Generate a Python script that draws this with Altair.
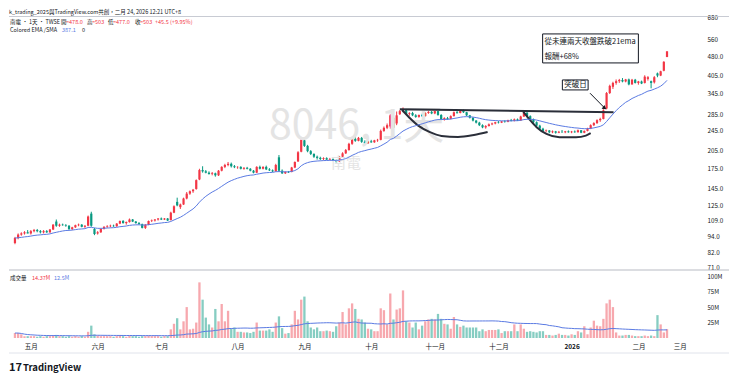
import altair as alt
import pandas as pd

UP = "#f23645"
DOWN = "#089981"
VUP = "#f7a8ae"
VDOWN = "#86cdc2"
EMA_C = "#5b7be3"
INK = "#131722"
FONT = "Noto Sans CJK TC"

# ---- daily candles (Apr 24 2025 -> Feb 24 2026) ----
opens = [89, 93, 96, 97, 98, 97, 99, 100, 99, 98, 99, 98, 100.5, 108, 104, 105, 104.5, 104, 101, 102.5,
         104.5, 105, 103, 104, 116, 101, 97, 98, 101, 103, 103.5, 104, 103.5, 106, 108.5, 106.5, 107.5, 110, 108, 106.5,
         105.5, 102, 105, 108.5, 109, 110, 111, 110, 111, 109.5, 117, 129, 123, 126, 133, 139, 142, 145, 158, 172,
         170, 168, 166, 167, 164, 171, 177, 180, 182, 178, 176.5, 177, 174, 175.5, 174, 171, 168, 177, 174, 177,
         173, 171.5, 170, 193, 171, 167, 169, 169, 176, 186, 203, 225, 214, 204, 199, 194, 192, 190, 191.5, 189,
         190, 188, 186, 194, 200, 206, 218, 228, 224, 230, 222, 219, 223, 221, 225, 226, 245, 252, 255, 276,
         262, 285, 293, 298, 286, 288, 282, 278, 283, 280, 288, 291, 287, 293, 283, 272, 275, 273, 280, 290,
         288, 294, 290, 282, 276, 269, 264, 258, 253, 256, 260, 262, 265, 264, 267, 266, 270, 268, 272, 269,
         279, 289, 280, 272, 265, 257, 250, 245, 246, 242, 244, 241, 243, 242, 244, 242, 243.5, 242, 246.5, 241,
         245, 250, 258, 263, 270, 273, 300, 345, 365, 378, 384, 388, 383, 390, 373, 389, 378, 383, 378, 392,
         384, 380, 412, 404, 422, 478]
highs = [94, 97, 98, 99, 100, 100, 101, 101, 100, 100, 100, 101, 105.5, 110, 106, 106, 105.5, 104.5, 103, 105,
         106, 105.5, 104.5, 114, 118, 102, 99, 101.5, 103.5, 104.5, 105, 105, 106.5, 109, 109.5, 108, 111, 110.5, 108.5, 107.5,
         106, 105.5, 109, 110, 110.5, 111.5, 112, 111.5, 111.5, 118, 125, 134, 127, 134, 141, 143, 145, 158, 174, 178,
         172, 170, 169, 168, 172, 178, 182, 185, 184, 180, 178, 178, 176.5, 177, 175, 172, 178, 179, 178, 179,
         175, 173, 182, 197, 173, 170, 170.5, 177, 186, 204, 232, 228, 216, 206, 200, 196, 194, 193, 193, 192,
         191, 189, 195, 202, 208, 220, 230, 235, 232, 232, 225, 224, 226, 226, 228, 248, 255, 262, 285, 280,
         292, 296, 303, 299, 290, 291, 285, 284, 286, 290, 293, 294, 295, 295, 285, 277, 278, 282, 292, 298,
         296, 297, 291, 283, 277, 270, 266, 260, 258, 262, 264, 266, 268, 268, 270, 271, 273, 274, 274, 281,
         292, 290, 282, 274, 267, 259, 252, 248, 247, 246, 245, 245, 247, 245, 246, 245, 246, 248, 247, 246,
         252, 260, 265, 272, 276, 298, 348, 372, 382, 390, 392, 395, 392, 393, 392, 392, 385, 386, 405, 402,
         386, 402, 415, 422, 460, 503]
lows = [88, 92, 95, 96, 97, 96, 98, 98, 97, 97, 97.5, 97.5, 100, 103, 103, 104, 103, 100, 100, 102,
        103.5, 102.5, 102, 103.5, 103, 95.5, 96, 97.5, 100.5, 102, 102.5, 103, 103, 105.5, 106, 105, 107, 107.5, 106, 105,
        101.5, 101, 104.5, 107.5, 108, 109, 109.5, 109.5, 108.5, 109, 116.5, 124, 121, 125.5, 132, 137.5, 140, 144, 157, 168,
        167, 165, 164, 162, 163, 170, 175, 178, 176, 175, 174, 173, 172.5, 173, 170, 167, 167.5, 173, 173, 172,
        170.5, 169, 169.5, 169, 166, 166, 167.5, 168.5, 175, 185, 202, 212, 202, 197, 192, 189, 188, 188, 188.5, 188,
        186.5, 184, 185, 193, 199, 205, 216, 222, 223, 220, 217, 218, 220, 220, 222, 225, 243, 249, 250, 248,
        258, 283, 290, 284, 281, 280, 276, 276, 278, 279, 286, 285, 285, 281, 270, 269, 271, 272, 279, 286,
        287, 288, 280, 274, 267, 262, 256, 251, 250, 255, 258, 260, 262, 263, 264, 265, 267, 267, 268, 268,
        278, 278, 270, 263, 255, 248, 243, 242, 240, 240, 239, 240, 241, 240, 241, 240, 241, 241.5, 240, 240,
        244, 249, 256, 261, 266, 272, 298, 342, 358, 372, 378, 380, 380, 370, 372, 376, 372, 374, 376, 386,
        360, 376, 398, 402, 420, 477]
closes = [93, 96, 97, 98, 97, 99, 100, 99, 98, 99, 98, 100.5, 105, 104, 105, 104.5, 104, 101, 102.5, 104.5,
          105, 103, 104, 113, 104, 96.5, 98, 101, 103, 103.5, 104, 103.5, 106, 108.5, 106.5, 107.5, 110, 108, 106.5, 105.5,
          102, 105, 108.5, 109, 110, 111, 110, 111, 109, 117, 124, 125, 126, 133, 139, 142, 144, 157, 172, 170,
          168, 166, 167, 164, 171, 177, 180, 182, 178, 176.5, 177, 174, 175.5, 174, 171, 168, 177, 174, 177, 173,
          171.5, 170, 180, 171, 167, 169, 168.5, 176, 185, 202, 226, 214, 204, 199, 194, 192, 190, 191.5, 189, 190,
          188, 186, 194, 200, 206, 218, 228, 224, 230, 222, 219, 223, 221, 225, 226, 245, 252, 258, 282, 252,
          282, 293, 299, 286, 288, 282, 278, 283, 280, 288, 291, 287, 293, 283, 272, 275, 273, 280, 290, 288,
          294, 290, 282, 276, 269, 264, 258, 253, 256, 260, 262, 265, 264, 267, 266, 270, 268, 272, 269, 279,
          289, 280, 272, 265, 257, 250, 245, 246, 242, 244, 241, 243, 242, 244, 242, 243.5, 242, 246.5, 241, 245,
          250, 258, 263, 270, 273, 295, 345, 368, 378, 384, 388, 383, 390, 373, 389, 378, 383, 376, 400, 398,
          378, 398, 404, 420, 457.5, 503]
volumes = [8, 8, 6, 3, 3, 3, 3, 2, 3, 2, 3, 3, 4, 5, 3, 3, 2, 3, 2, 3,
           2, 3, 2, 10, 20, 6, 4, 3, 3, 3, 3, 2, 3, 4, 3, 2, 4, 3, 3, 2,
           3, 3, 4, 3, 3, 3, 2, 3, 3, 14, 23, 32, 14, 27, 50, 14, 15, 25, 90, 62,
           33, 22, 17, 47, 27, 55, 27, 44, 15, 17, 10, 10, 9, 9, 8, 10, 25, 12, 12, 12,
           14, 10, 25, 35, 16, 7, 8, 22, 44, 30, 62, 67, 27, 17, 14, 17, 11, 11, 12, 11,
           10, 19, 25, 42, 22, 48, 56, 47, 31, 30, 25, 15, 14, 11, 11, 48, 45, 22, 72, 30,
           46, 48, 77, 27, 25, 17, 25, 14, 20, 27, 30, 31, 30, 39, 31, 23, 22, 15, 34, 22,
           18, 20, 17, 17, 17, 17, 11, 14, 11, 13, 13, 13, 14, 8, 11, 11, 11, 22, 11, 22,
           15, 10, 11, 10, 9, 11, 11, 5, 5, 4, 5, 7, 5, 5, 4, 6, 5, 11, 9, 19,
           6, 17, 28, 20, 19, 31, 56, 62, 50, 9, 4, 4, 5, 5, 4, 3, 3, 3, 4, 3,
           4, 3, 37, 22, 9, 14.37]

month_idx = [5, 26, 46, 70, 91, 112, 132, 152, 175, 196, 209]
month_lbl = ["五月", "六月", "七月", "八月", "九月", "十月", "十一月", "十二月", "2026", "二月", "三月"]
price_ticks = [71, 82, 94, 109, 125, 145, 175, 205, 245, 285, 345, 405, 480, 560, 680]
vol_ticks = [25, 50, 75, 100]

# annotation shapes (bar index, price)
res_i = [121.0, 188.2]
res_p = [298, 290]
arc1_i = [121.7, 124.1, 126.9, 130.3, 134.1, 139.3, 144.3, 148.6]
arc1_p = [296, 275.5, 256.3, 242.8, 234.2, 232.1, 236.3, 242.8]
arc2_i = [159.8, 161.9, 164.0, 167.1, 171.2, 176.4, 179.5, 181.0]
arc2_p = [291.9, 270.5, 253.3, 238.4, 231.4, 231.4, 234.8, 240.0]

W, HP, HV = 684, 262, 68
LINE_END = 720

df = pd.DataFrame({"i": list(range(len(closes))), "open": opens, "high": highs,
                   "low": lows, "close": closes, "vol": volumes})
df["dir"] = ["up" if c >= o else "down" for o, c in zip(opens, closes)]
df["vdir"] = df["dir"]
df["ema"] = df["close"].ewm(span=21, adjust=False).mean()

xscale = alt.Scale(domain=[-0.3, 211.6], nice=False, zero=False)
yscale = alt.Scale(type="log", domain=[69.7, 744], nice=False, zero=False)
vscale = alt.Scale(domain=[0, 110], nice=False, zero=False)

NOX = alt.Axis(labels=False, ticks=False, domain=False, grid=False, title=None)
price_axis = alt.Axis(orient="right", values=price_ticks, grid=False, domain=False, ticks=False,
                      labelPadding=14, labelFontSize=6.3, labelColor=INK, labelFont=FONT, title=None,
                      labelExpr="datum.value >= 500 ? format(datum.value, 'd') : format(datum.value, '.1f')")

XP = alt.X("i:Q", scale=xscale, axis=NOX)
cdir = alt.Color("dir:N", scale=alt.Scale(domain=["up", "down"], range=[UP, DOWN]), legend=None)
vdir = alt.Color("vdir:N", scale=alt.Scale(domain=["up", "down"], range=[VUP, VDOWN]), legend=None)


def YP(field):
    return alt.Y(field, scale=yscale, axis=price_axis)


def XD(field):
    return alt.X(field, scale=xscale, axis=NOX)


def txt(t, x, y, color=INK, size=5.5, align="left", weight="normal"):
    return alt.Chart(pd.DataFrame({"t": [t]})).mark_text(
        align=align, baseline="middle", fontSize=size, color=color, fontWeight=weight, font=FONT
    ).encode(x=alt.value(x), y=alt.value(y), text="t:N")


def hline(y, x1, x2, color="#c8cbd3"):
    return alt.Chart(pd.DataFrame({"k": [0]})).mark_rule(color=color, strokeWidth=1).encode(
        x=alt.value(x1), x2=alt.value(x2), y=alt.value(y))


def dtxt(t, i, p, size=7.5, align="left"):
    return alt.Chart(pd.DataFrame({"t": [t], "i": [i], "p": [p]})).mark_text(
        align=align, baseline="middle", fontSize=size, color=INK, font=FONT
    ).encode(x=XD("i:Q"), y=YP("p:Q"), text="t:N")


def dline(ii, pp, interp="linear", width=2, color="#2a2e39"):
    return alt.Chart(pd.DataFrame({"i": ii, "p": pp})).mark_line(
        color=color, strokeWidth=width, interpolate=interp
    ).encode(x=XD("i:Q"), y=YP("p:Q"))


def dbox(x1, x2, p1, p2):
    return alt.Chart(pd.DataFrame({"x1": [x1], "x2": [x2], "p1": [p1], "p2": [p2]})).mark_rect(
        fill="white", stroke=INK, strokeWidth=1
    ).encode(x=XD("x1:Q"), x2="x2:Q", y=YP("p1:Q"), y2="p2:Q")


wm1 = alt.Chart(pd.DataFrame({"t": ["8046, 1天"]})).mark_text(
    align="left", baseline="middle", fontSize=41, color="#e4e4e4", font=FONT
).encode(x=alt.value(260), y=alt.value(119), text="t:N")
wm2 = alt.Chart(pd.DataFrame({"t": ["南電"]})).mark_text(
    align="left", baseline="middle", fontSize=15, color="#e4e4e4", font=FONT
).encode(x=alt.value(322), y=alt.value(155), text="t:N")

wick = alt.Chart(df).mark_rule(strokeWidth=1).encode(
    x=XP, y=YP("low:Q"), y2="high:Q", color=cdir)
body = alt.Chart(df).mark_bar(size=2.2).encode(
    x=XP, y=YP("open:Q"), y2="close:Q", color=cdir)
ema = alt.Chart(df).mark_line(color=EMA_C, strokeWidth=1).encode(
    x=XP, y=YP("ema:Q"))

arrow = dline([180.8, 185.4], [344.5, 301.3], width=1, color=INK)
arrow_head = alt.Chart(pd.DataFrame({"i": [185.4], "p": [301.3]})).mark_point(
    shape="triangle-up", angle=127, size=22, filled=True, color=INK, opacity=1
).encode(x=XD("i:Q"), y=YP("p:Q"))

RED = UP
price = alt.layer(
    wick, body,
    wm1, wm2,
    dline(res_i, res_p),
    dline(arc1_i, arc1_p, interp="monotone"),
    dline(arc2_i, arc2_p, interp="monotone"),
    ema,
    dbox(165.9, 196.0, 588.6, 452.9),
    dtxt("從未連兩天收盤跌破21ema", 166.5, 547.6),
    dtxt("報酬+68%", 166.5, 478),
    dbox(172.1, 180.2, 388.3, 354.8),
    dtxt("突破日", 176.2, 371, align="center"),
    arrow, arrow_head,
    txt("k_trading_2025與TradingView.com共創，二月 24, 2026 12:21 UTC+8", 0, 3.5),
    hline(8.5, 0, LINE_END),
    txt("南電 · 1天 · TWSE", 1, 14),
    txt("開", 52, 14), txt("=478.0", 57, 14, RED),
    txt("高", 78, 14), txt("=503", 83, 14, RED),
    txt("低", 99, 14), txt("=477.0", 104, 14, RED),
    txt("收", 126, 14), txt("=503", 131, 14, RED),
    txt("+45.5 (+9.95%)", 146, 14, RED),
    txt("Colored EMA /SMA", 1, 22),
    txt("387.1", 53, 22, EMA_C), txt("0", 73, 22),
).properties(width=W, height=HP)

labels_js = "[" + ",".join("'" + m + "'" for m in month_lbl) + "]"
idx_js = "[" + ",".join(str(v) for v in month_idx) + "]"
x_axis = alt.Axis(values=month_idx, labelExpr=labels_js + "[indexof(" + idx_js + ", datum.value)]",
                  grid=False, domain=False, ticks=False, labelPadding=5, labelFontSize=6.5,
                  labelColor=INK, labelFont=FONT, title=None,
                  labelFontWeight={"condition": {"test": "datum.value == 175", "value": "bold"}, "value": "normal"})
vol_axis = alt.Axis(orient="right", values=vol_ticks, grid=False, domain=False, ticks=False,
                    labelPadding=14, labelFontSize=6.0, labelColor=INK, labelFont=FONT, title=None,
                    labelExpr="datum.value + 'M'")

XV = alt.X("i:Q", scale=xscale, axis=x_axis)
vbars = alt.Chart(df).mark_bar(size=2.3).encode(
    x=XV, y=alt.Y("vol:Q", scale=vscale, axis=vol_axis), color=vdir)
vma = alt.Chart(df).transform_window(
    vma="mean(vol)", frame=[-49, 0], sort=[alt.SortField("i")]
).mark_line(color=EMA_C, strokeWidth=1).encode(
    x=XV, y=alt.Y("vma:Q", scale=vscale, axis=vol_axis))

volume = alt.layer(
    vbars, vma,
    hline(0, 0, LINE_END, "#b8bbc3"),
    txt("成交量", 1, 8), txt("14.37M", 23, 8, RED), txt("12.5M", 45, 8, EMA_C),
    hline(83, 0, LINE_END, "#e0e3eb"),
    txt("17", 0, 98, INK, 11, weight="bold"),
    txt("TradingView", 14, 98, INK, 9.5, weight="bold"),
).properties(width=W, height=HV)

chart = alt.vconcat(price, volume, spacing=0, bounds="flush").resolve_scale(
    y="independent", color="independent"
).properties(padding=0).configure_view(stroke=None)

chart.save("out.html", embed_options={"renderer": "svg", "actions": False})
